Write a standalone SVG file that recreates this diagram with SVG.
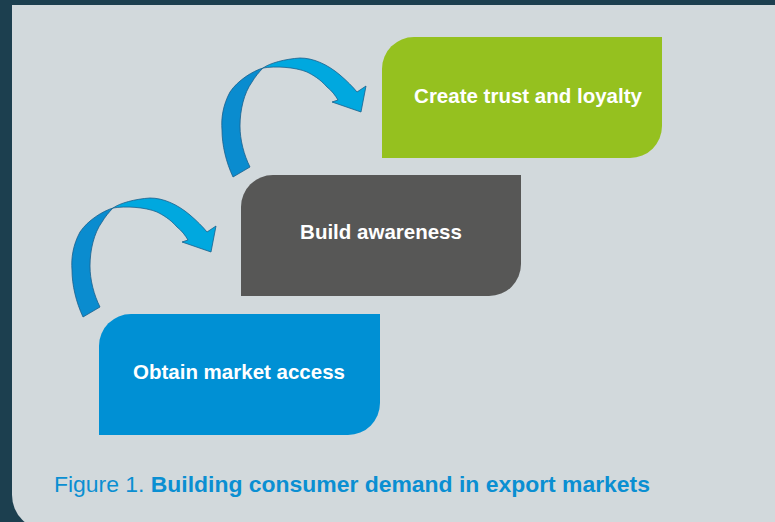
<svg xmlns="http://www.w3.org/2000/svg" width="775" height="522" viewBox="0 0 775 522">
<defs>
<style>
.lbl{font-family:"Liberation Sans",Arial,sans-serif;font-weight:bold;font-size:20.5px;fill:#ffffff}
.cap{font-family:"Liberation Sans",Arial,sans-serif;font-size:22px;fill:#0a8fd2}
.dk{fill:#0a8ccf;stroke:#1b5f8c;stroke-width:0.8}
.lt{fill:#00a8df;stroke:#1b5f8c;stroke-width:0.8}
</style>
<g id="arrowShape">
<path class="dk" d="M113,208 C103,211 88,220 80,232 C73,245 71,258 72,270 C72,285 76,302 83,317 L100,307 C94,295 90,280 90,266 C90,250 94,233 102,222 C105,217 109,212 113,208 Z"/>
<path class="lt" d="M113,208 C120,203 135,199 150,198 C163,198 177,204 190,215 C197,221 203,227 207,232 L216,226 L211,252 L182,242 L188,240 C185,235 182,231 177,227 C170,219 163,215 157,212 C145,207 125,206 113,208 Z"/>
</g>
</defs>
<rect x="0" y="0" width="775" height="522" fill="#1c3f4f"/>
<path d="M12,5 H775 V530 H47 A35,35 0 0 1 12,495 Z" fill="#d2d9dc"/>
<g id="connectors">
<use href="#arrowShape"/>
<use href="#arrowShape" transform="translate(150,-140)"/>
</g>
<g id="node-trust">
<path d="M414,37 H662 V126 A32,32 0 0 1 630,158 H382 V69 A32,32 0 0 1 414,37 Z" fill="#95c11f"/>
<text class="lbl" x="528" y="103" text-anchor="middle">Create trust and loyalty</text>
</g>
<g id="node-awareness">
<path d="M273,175 H521 V264 A32,32 0 0 1 489,296 H241 V207 A32,32 0 0 1 273,175 Z" fill="#575756"/>
<text class="lbl" x="381" y="239" text-anchor="middle">Build awareness</text>
</g>
<g id="node-access">
<path d="M131,314 H380 V403 A32,32 0 0 1 348,435 H99 V346 A32,32 0 0 1 131,314 Z" fill="#0090d4"/>
<text class="lbl" x="239" y="379" text-anchor="middle">Obtain market access</text>
</g>
<text class="cap" x="54" y="492" textLength="596" lengthAdjust="spacingAndGlyphs">Figure 1. <tspan font-weight="bold">Building consumer demand in export markets</tspan></text>
</svg>
